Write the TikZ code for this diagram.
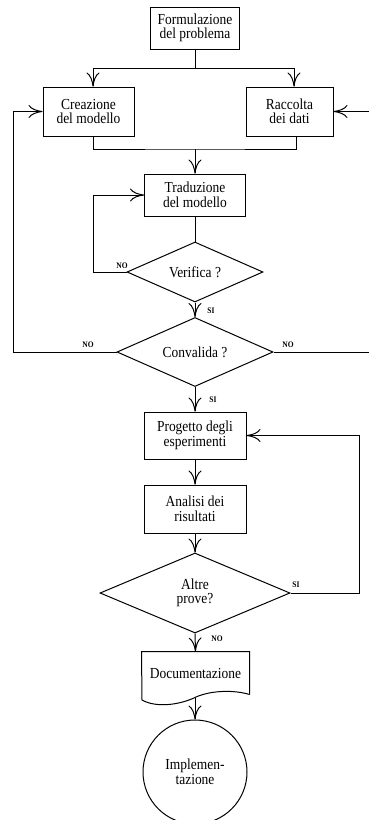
\documentclass[tikz,border=0pt]{standalone}
\usepackage{fontspec}
\setmainfont[FakeStretch=0.88]{Liberation Serif}
\usetikzlibrary{shapes.geometric,arrows.meta}

\begin{document}
\begin{tikzpicture}[x=1pt,y=-1pt,
    line width=1pt,
    every node/.style={font=\fontsize{15.3}{14.5}\selectfont},
    proc/.style={draw,rectangle,align=center,inner sep=0pt},
    test/.style={draw,diamond,align=center,inner sep=0pt,aspect=2.3},
    term/.style={draw,circle,align=center,inner sep=0pt,minimum size=104pt},
    flow/.style={-{Computer Modern Rightarrow[length=14pt,width=13pt,line width=1pt]}},
    lab/.style={font=\fontsize{8.5}{9}\selectfont\bfseries,inner sep=0pt}]
  \useasboundingbox (0,0) rectangle (369,820);

  % blocks
  \node[proc,minimum width=89pt,minimum height=42pt] (form) at (195,28) {Formulazione\\del problema};
  \node[proc,minimum width=91pt,minimum height=49pt] (crea) at (88.5,111.5) {Creazione\\del modello};
  \node[proc,minimum width=87pt,minimum height=49pt] (racc) at (289.5,111.5) {Raccolta\\dei dati};
  \node[proc,minimum width=101pt,minimum height=42pt] (trad) at (195,195) {Traduzione\\del modello};
  \node[test,minimum width=136pt,minimum height=60pt] (veri) at (195,272) {Verifica ?};
  \node[test,minimum width=156pt,minimum height=69pt] (conv) at (195,352) {Convalida ?};
  \node[proc,minimum width=102pt,minimum height=47pt] (prog) at (195,435.5) {Progetto degli\\esperimenti};
  \node[proc,minimum width=102pt,minimum height=48pt] (anal) at (195,509) {Analisi dei\\risultati};
  \node[test,minimum width=190pt,minimum height=80pt] (altr) at (195,593) {Altre\\prove?};
  \node[minimum width=107pt,minimum height=42pt,inner sep=0pt] (doc) at (195.5,673) {Documentazione};
  \node[term] (impl) at (195,772) {Implemen-\\tazione};

  % document outline with wavy lower edge
  \draw (doc.south east) -- (doc.north east) -- (doc.north west) -- (142,700)
        .. controls (156,708) and (180,705) .. (196,697)
        .. controls (212,690) and (235,690) .. (doc.south east);
  \coordinate (docbot) at (195,698);

  % junction points
  \coordinate (j1) at (195,68);
  \coordinate (j2) at (195,149);
  \coordinate (lft) at (13,352);
  \coordinate (rgt) at (372,352);
  \coordinate (loopv) at (93,272);
  \coordinate (loopa) at (359,593);

  % connectors
  \draw (form.south) -- (j1);
  \draw[flow] (j1) -| ([xshift=4.5pt]crea.north);
  \draw[flow] (j1) -| ([xshift=4.5pt]racc.north);
  \draw ([xshift=4.5pt]crea.south) |- (j2) -| ([xshift=6.5pt]racc.south);
  \draw[flow] (j2) -- (trad.north);
  \draw (trad.south) -- (veri.north);
  \draw[flow] (veri.west) -- (loopv) |- (trad.west);
  \draw[flow] (veri.south) -- (conv.north);
  \draw[flow] (conv.west) -- (lft) |- (crea.west);
  \draw[flow] (conv.east) -- (rgt) |- (racc.east);
  \draw[flow] (conv.south) -- (prog.north);
  \draw[flow] (prog.south) -- (anal.north);
  \draw[flow] (anal.south) -- (altr.north);
  \draw[flow] (altr.east) -- (loopa) |- (prog.east);
  \draw[flow] (altr.south) -- (doc.north);
  \draw[flow] (docbot) -- (impl.north);

  % branch labels
  \node[lab] at (122,266) {NO};
  \node[lab] at (211,311) {SI};
  \node[lab] at (88,345) {NO};
  \node[lab] at (288,345) {NO};
  \node[lab] at (213,400) {SI};
  \node[lab] at (296,585) {SI};
  \node[lab] at (217,639) {NO};
\end{tikzpicture}
\end{document}
